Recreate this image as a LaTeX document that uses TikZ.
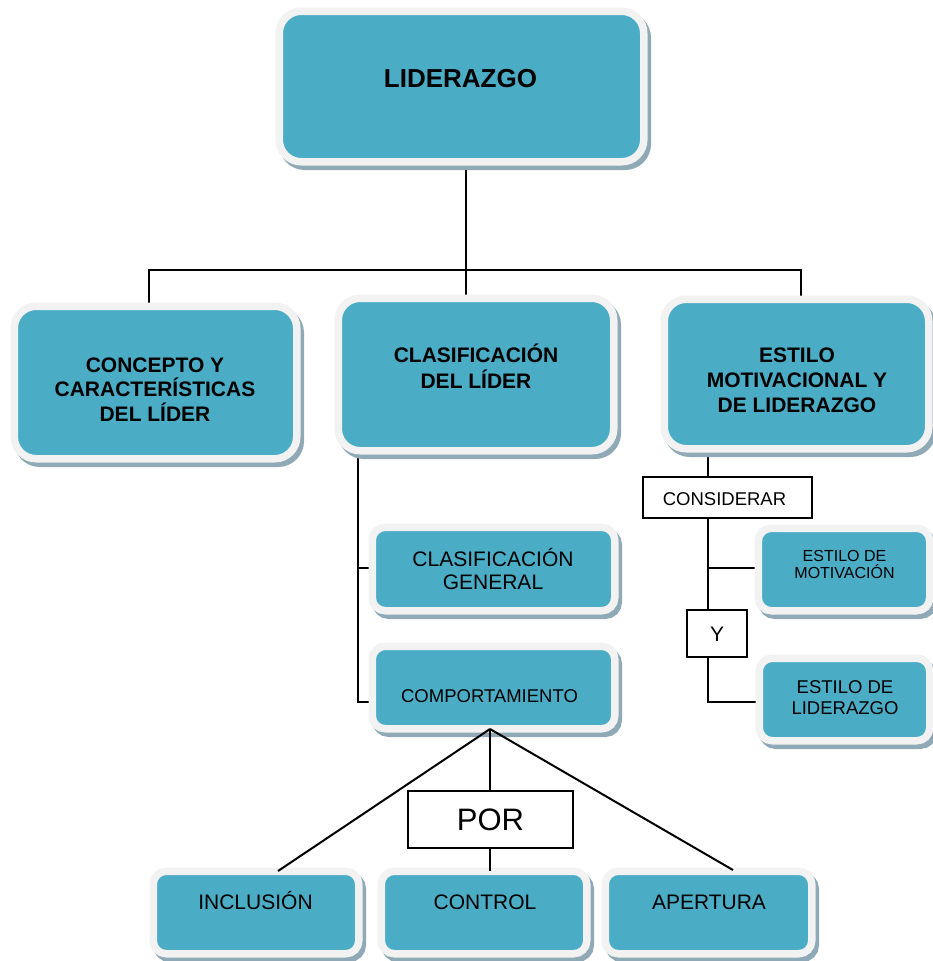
\documentclass[tikz,border=0pt]{standalone}
\usepackage{fontspec}
\setmainfont{Liberation Sans}
\usetikzlibrary{shadows,backgrounds}
\definecolor{boxteal}{HTML}{4BACC6}
\definecolor{boxrim}{HTML}{F2F2F2}
\definecolor{boxshade}{HTML}{8FAAB6}
\tikzset{
  card/.style={rectangle, draw=boxrim, line width=7.5pt, fill=boxteal,
    inner sep=0pt, outer sep=0pt,
    drop shadow={shadow xshift=3.5pt, shadow yshift=-4.5pt, fill=boxshade,
      draw=boxshade, line width=7.5pt, opacity=1}},
  bigcard/.style={card, rounded corners=22pt},
  smallcard/.style={card, rounded corners=13pt},
  tag/.style={rectangle, draw=black, line width=1.5pt, fill=white, inner sep=0pt,
    text depth=0pt},
  link/.style={draw=black, line width=2pt},
  txt/.style={align=center, inner sep=0pt, text=black},
  oneline/.style={txt, text depth=0pt},
  % cap heights of Liberation Sans at the sizes used
  cap31/.style={font=\fontsize{31}{36}\selectfont, text height=22.2pt},
  cap26/.style={font=\fontsize{26}{30}\selectfont\bfseries, text height=18.6pt},
  cap21/.style={font=\fontsize{21}{24}\selectfont, text height=15.04pt},
  cap185/.style={font=\fontsize{18.5}{21}\selectfont, text height=13.25pt},
}
\begin{document}
\begin{tikzpicture}[x=1pt, y=-1pt]
\useasboundingbox (0,0) rectangle (932,961);

% ---- boxes ----
\node[bigcard, minimum width=364.5pt, minimum height=150.5pt] (lid) at (461.5,86.5) {};
\node[bigcard, minimum width=282.5pt, minimum height=152.5pt] (concept) at (155.5,382.5) {};
\node[bigcard, minimum width=275.5pt, minimum height=152.5pt] (clasif) at (476,374.5) {};
\node[bigcard, minimum width=264.5pt, minimum height=149.5pt] (estilo) at (796.5,374) {};
\node[smallcard, minimum width=242.5pt, minimum height=83.5pt] (general) at (493.5,569) {};
\node[smallcard, minimum width=242.5pt, minimum height=82.5pt] (comport) at (493.5,687.5) {};
\node[smallcard, minimum width=171.5pt, minimum height=82.5pt] (motiv) at (844,569.5) {};
\node[smallcard, minimum width=170.5pt, minimum height=82.5pt] (lidz) at (844.5,699.5) {};
\node[smallcard, minimum width=205.5pt, minimum height=82.5pt] (incl) at (256,912.5) {};
\node[smallcard, minimum width=205.5pt, minimum height=82.5pt] (control) at (484,912.5) {};
\node[smallcard, minimum width=206.5pt, minimum height=82.5pt] (apert) at (708.5,912.5) {};

% ---- box texts ----
\node[oneline, cap26] (lid-t) at (460.5,78.5) {LIDERAZGO};
\node[txt, font=\fontsize{21}{24.5}\selectfont\bfseries] (concept-t) at (155,389.5)
  {CONCEPTO Y\\CARACTERÍSTICAS\\DEL LÍDER};
\node[txt, font=\fontsize{21}{26}\selectfont\bfseries] (clasif-t) at (476,366)
  {CLASIFICACIÓN\\DEL LÍDER};
\node[txt, font=\fontsize{21}{25}\selectfont\bfseries] (estilo-t) at (797,380)
  {ESTILO\\MOTIVACIONAL Y\\DE LIDERAZGO};
\node[txt, font=\fontsize{21}{23}\selectfont] (general-t) at (493,568.5)
  {CLASIFICACIÓN\\GENERAL};
\node[oneline, cap185] (comport-t) at (489.5,695.5) {COMPORTAMIENTO};
\node[txt, font=\fontsize{16}{17}\selectfont] (motiv-t) at (844.5,564)
  {ESTILO DE\\MOTIVACIÓN};
\node[txt, font=\fontsize{18.5}{21}\selectfont] (lidz-t) at (845,697.5)
  {ESTILO DE\\LIDERAZGO};
\node[oneline, cap21] (incl-t) at (255.5,901.5) {INCLUSIÓN};
\node[oneline, cap21] (control-t) at (485,901.5) {CONTROL};
\node[oneline, cap21] (apert-t) at (709,901.5) {APERTURA};

% ---- word tags on the links ----
\node[tag, cap185, minimum width=169pt, minimum height=41pt] (consid) at (727.5,497.5) {};
\node[oneline, cap185] (consid-t) at (724.5,498.5) {CONSIDERAR};
\node[tag, cap21, minimum width=60pt, minimum height=47pt] (y) at (717,633.5) {Y};
\node[tag, cap31, minimum width=165pt, minimum height=57pt] (por) at (490.5,819.5) {POR};

% ---- links ----
\coordinate (hub) at (466,270);
\coordinate (hl) at (149,270);
\coordinate (hr) at (801,270);
\coordinate (cs) at (358,702);
\coordinate (cs-gen) at (358,568);
\coordinate (es) at (708,702);
\coordinate (es-mot) at (708,568);
\coordinate (apex) at (490,729);
\coordinate (incl-in) at (278,871);
\coordinate (apert-in) at (733,870);

\begin{scope}[on background layer]
  \fill[white] (0,0) rectangle (932,961);
  \draw[link] (hub |- lid.center) -- (hub);
  \draw[link] (hl |- concept.center) -- (hl) -- (hr) -- (hr |- estilo.center);
  \draw[link] (hub) -- (hub |- clasif.center);
  \draw[link] (cs |- clasif.center) -- (cs) -- (cs -| comport.center);
  \draw[link] (cs-gen) -- (cs-gen -| general.center);
  \draw[link] (es |- estilo.center) -- (es) -- (es -| lidz.center);
  \draw[link] (es-mot) -- (es-mot -| motiv.center);
\end{scope}

\draw[link] (apex) -- (incl-in);
\draw[link] (apex) -- (apert-in);
\draw[link] (apex) -- (apex |- por.north);
\draw[link] (apex |- por.south) -- (apex |- control.north);
\end{tikzpicture}
\end{document}
